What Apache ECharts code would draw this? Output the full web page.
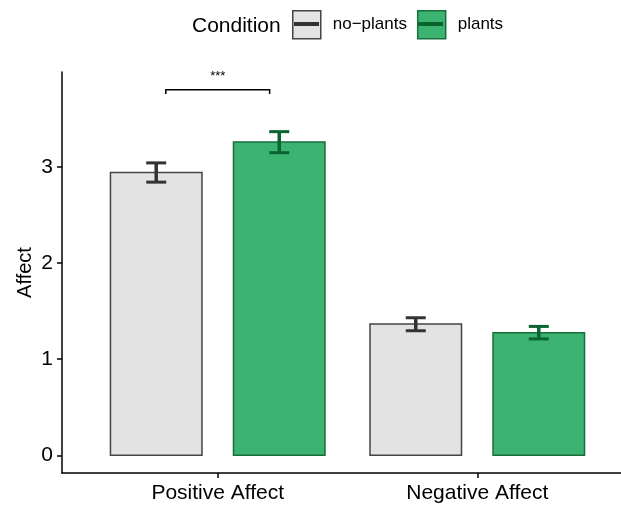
<!DOCTYPE html>
<html>
<head>
<meta charset="utf-8">
<script src="https://cdn.jsdelivr.net/npm/echarts@6/dist/echarts.min.js"></script>
<style>
html,body{margin:0;padding:0;background:#fff;}
#main{width:621px;height:507px;}
</style>
</head>
<body>
<div id="main"></div>
<script>
// ---- data ----
const categories = ['Positive Affect', 'Negative Affect'];
const conditions = ['no−plants', 'plants'];
const noPlantsMean = [2.94, 1.365];
const noPlantsLow  = [2.84, 1.295];
const noPlantsHigh = [3.04, 1.43];
const plantsMean = [3.257, 1.274];
const plantsLow  = [3.146, 1.21];
const plantsHigh = [3.365, 1.34];
const yTicks = [0, 1, 2, 3];
const sigCategory = ['Positive Affect'];
const sigLabel = ['***'];
const sigValue = [3.80];

// ---- style ----
const FONT = '"Liberation Sans", Arial, Helvetica, sans-serif';
const DODGE = 0.237, BAR_W = 0.3526, CAP_W = 0.077;
const styles = [
  {fill: '#e3e3e3', border: '#444444', err: '#333333'},
  {fill: '#3cb371', border: '#1a6e3c', err: '#0c6332'}
];

function makeData(mean, lo, hi) {
  return categories.map((c, i) => [i + 1, mean[i], lo[i], hi[i]]);
}

function barRender(gi) {
  return function (params, api) {
    const x = api.value(0) + (gi === 0 ? -DODGE : DODGE);
    const m = api.value(1), lo = api.value(2), hi = api.value(3);
    const tl = api.coord([x - BAR_W / 2, m]);
    const br = api.coord([x + BAR_W / 2, 0]);
    const st = styles[gi];
    const pTop = api.coord([x, hi]), pBot = api.coord([x, lo]);
    const cL = api.coord([x - CAP_W / 2, hi])[0], cR = api.coord([x + CAP_W / 2, hi])[0];
    return {
      type: 'group',
      children: [
        {type: 'rect', shape: {x: tl[0], y: tl[1], width: br[0] - tl[0], height: br[1] - tl[1]},
         style: {fill: st.fill, stroke: st.border, lineWidth: 1.5}},
        {type: 'line', shape: {x1: pTop[0], y1: pTop[1], x2: pBot[0], y2: pBot[1]},
         style: {stroke: st.err, lineWidth: 3.5}},
        {type: 'line', shape: {x1: cL, y1: pTop[1], x2: cR, y2: pTop[1]},
         style: {stroke: st.err, lineWidth: 3}},
        {type: 'line', shape: {x1: cL, y1: pBot[1], x2: cR, y2: pBot[1]},
         style: {stroke: st.err, lineWidth: 3}}
      ]
    };
  };
}

const sigData = sigCategory.map((c, i) => [categories.indexOf(c) + 1, sigValue[i], sigLabel[i]]);

const chart = echarts.init(document.getElementById('main'), null, {renderer: 'canvas'});
chart.setOption({
  animation: false,
  backgroundColor: '#fff',
  textStyle: {fontFamily: FONT},
  title: {
    text: 'Condition', left: 187, top: 11,
    textStyle: {fontFamily: FONT, fontSize: 21, fontWeight: 'normal', color: '#000'}
  },
  legend: {
    left: 287, top: 5, itemWidth: 28, itemHeight: 28, itemGap: 10,
    textStyle: {fontFamily: FONT, fontSize: 17, color: '#000', padding: [0, 0, 0, 7]},
    data: [
      {name: conditions[0], icon: 'rect', itemStyle: {color: styles[0].fill, borderColor: '#444', borderWidth: 1.5}},
      {name: conditions[1], icon: 'rect', itemStyle: {color: styles[1].fill, borderColor: styles[1].border, borderWidth: 1.5}}
    ],
    selectedMode: false
  },
  graphic: [
    {type: 'rect', left: 294, top: 22, shape: {width: 25, height: 4}, style: {fill: '#333'}, z: 100},
    {type: 'rect', left: 418, top: 22, shape: {width: 25, height: 4}, style: {fill: styles[1].err}, z: 100}
  ],
  grid: {left: 62, top: 72, right: -12, bottom: 34, outerBoundsMode: 'none', containLabel: false},
  xAxis: {
    type: 'value', min: 0.4, max: 2.6,
    splitLine: {show: false},
    axisLine: {show: true, onZero: false, lineStyle: {color: '#000', width: 1.5}},
    axisTick: {show: true, length: 5, lineStyle: {color: '#000', width: 1.5}, customValues: [1, 2]},
    axisLabel: {
      customValues: [1, 2], margin: 10,
      formatter: v => categories[Math.round(v) - 1] || '',
      fontFamily: FONT, fontSize: 21, color: '#000'
    }
  },
  yAxis: {
    type: 'value', min: -0.184, max: 3.985,
    name: 'Affect', nameLocation: 'middle', nameGap: 27, nameMoveOverlap: false,
    nameTextStyle: {fontFamily: FONT, fontSize: 20, color: '#000'},
    splitLine: {show: false},
    axisLine: {show: true, onZero: false, lineStyle: {color: '#000', width: 1.5}},
    axisTick: {show: true, length: 5, lineStyle: {color: '#000', width: 1.5}, customValues: yTicks},
    axisLabel: {customValues: yTicks, margin: 9, fontFamily: FONT, fontSize: 21, color: '#000'}
  },
  series: [
    {name: conditions[0], type: 'custom', renderItem: barRender(0),
     itemStyle: {color: styles[0].fill, borderColor: '#444'},
     encode: {x: 0, y: [1, 2, 3]}, data: makeData(noPlantsMean, noPlantsLow, noPlantsHigh)},
    {name: conditions[1], type: 'custom', renderItem: barRender(1),
     itemStyle: {color: styles[1].fill, borderColor: styles[1].border},
     encode: {x: 0, y: [1, 2, 3]}, data: makeData(plantsMean, plantsLow, plantsHigh)},
    {name: 'sig', type: 'custom', encode: {x: 0, y: 1}, data: sigData,
     renderItem: function (params, api) {
       const x = api.value(0), y = api.value(1);
       const a = api.coord([x - 0.2, y]), b = api.coord([x + 0.2, y]);
       const drop = api.coord([x, y - 0.045])[1];
       return {
         type: 'group',
         children: [
           {type: 'polyline', shape: {points: [[a[0], drop], a, b, [b[0], drop]]},
            style: {stroke: '#000', lineWidth: 1.5, fill: null}},
           {type: 'text', x: (a[0] + b[0]) / 2, y: a[1] - 7,
            style: {text: sigData[params.dataIndex][2], fontFamily: FONT, fontSize: 13,
                    fill: '#000', align: 'center', verticalAlign: 'bottom'}}
         ]
       };
     }}
  ]
});
</script>
</body>
</html>
